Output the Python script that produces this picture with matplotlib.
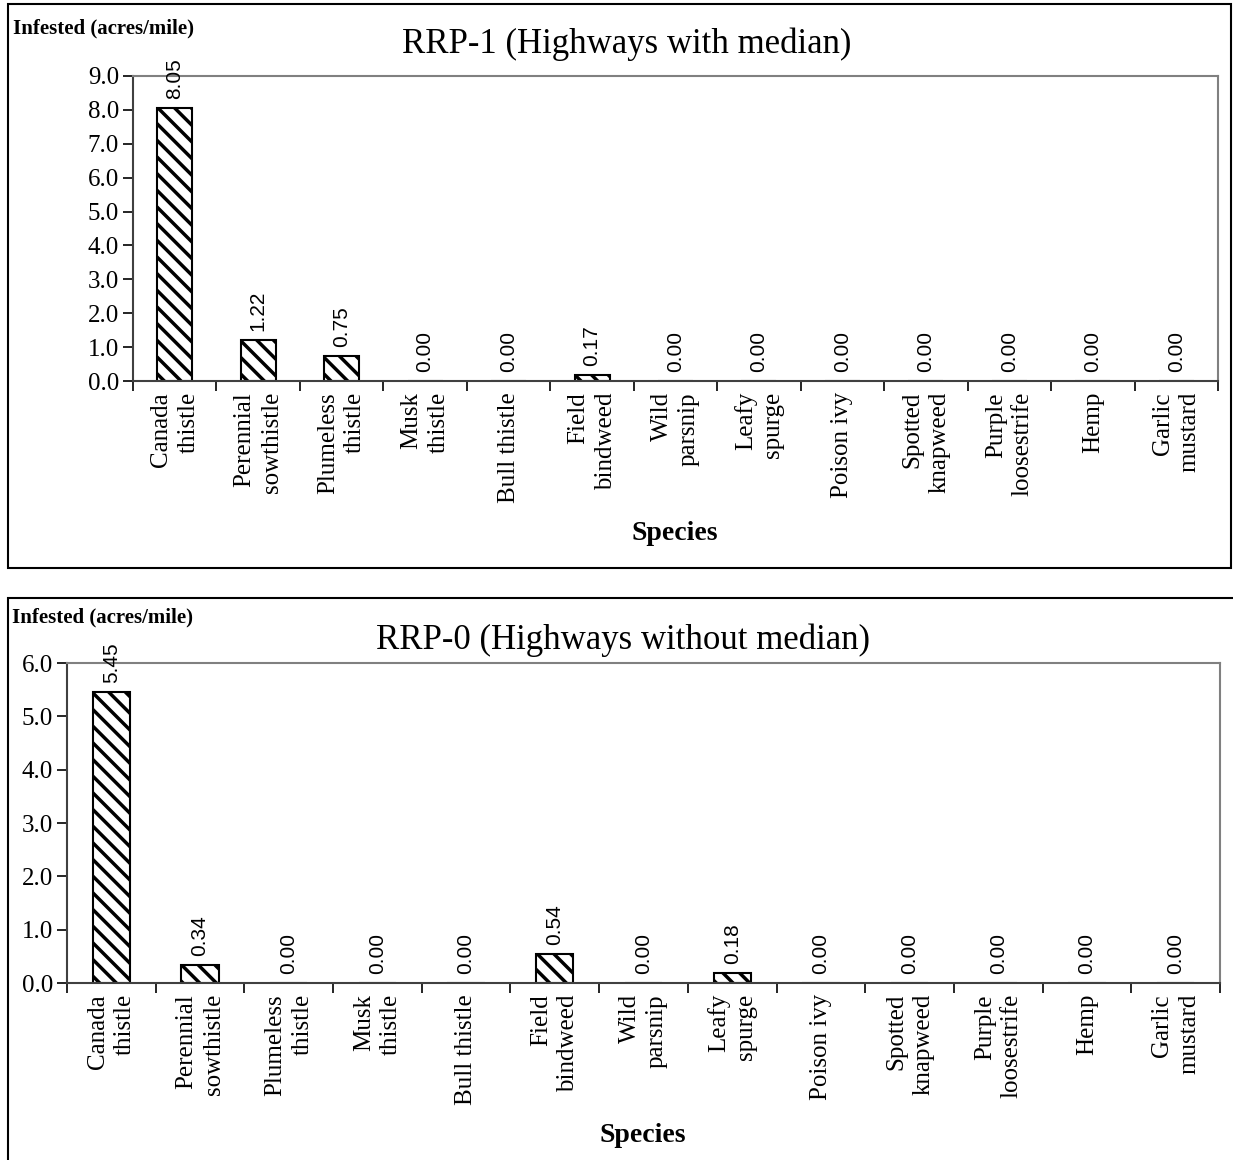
import matplotlib.pyplot as plt
import matplotlib.patches as patches
import numpy as np

species = ["Canada\nthistle", "Perennial\nsowthistle", "Plumeless\nthistle",
           "Musk\nthistle", "Bull thistle", "Field\nbindweed", "Wild\nparsnip",
           "Leafy\nspurge", "Poison ivy", "Spotted\nknapweed", "Purple\nloosestrife",
           "Hemp", "Garlic\nmustard"]
rrp1_vals = [8.05, 1.22, 0.75, 0.00, 0.00, 0.17, 0.00, 0.00, 0.00, 0.00, 0.00, 0.00, 0.00]
rrp0_vals = [5.45, 0.34, 0.00, 0.00, 0.00, 0.54, 0.00, 0.18, 0.00, 0.00, 0.00, 0.00, 0.00]

W, H = 1233, 1160
serif = "Liberation Serif"
sans = "Liberation Sans"
plt.rcParams['hatch.linewidth'] = 2.5


def px_axes(fig, left, top, right, bottom):
    return fig.add_axes([left / W, 1 - bottom / H, (right - left) / W, (bottom - top) / H])


def draw_panel(ax, vals, ymax):
    n = len(vals)
    x = np.arange(n)
    ax.bar(x, vals, width=0.42, color="white", edgecolor="black",
           hatch="\\\\", linewidth=1.5, zorder=2)
    for xi, v in zip(x, vals):
        ax.annotate(f"{v:.2f}", (xi, v), xytext=(0, 6.5), textcoords="offset points",
                    rotation=90, ha="center", va="bottom", fontsize=15, family=sans,
                    annotation_clip=False)
    ticks = np.arange(0, ymax + 0.01, 1.0)
    ax.set_xlim(-0.5, n - 0.5)
    ax.set_ylim(0, ymax)
    ax.set_yticks(ticks)
    ax.set_yticklabels([f"{t:.1f}" for t in ticks], family=serif, fontsize=18)
    ax.set_xticks(np.arange(-0.5, n, 1.0))
    ax.set_xticklabels([])
    ax.set_xticks(x, minor=True)
    ax.set_xticklabels(species, minor=True, rotation=90, family=serif,
                       fontsize=18, ha="center", va="top", multialignment="right",
                       linespacing=1.3)
    ax.tick_params(axis="x", which="major", length=7, direction="out", width=1.2)
    ax.tick_params(axis="x", which="minor", length=0, pad=8)
    ax.tick_params(axis="y", length=7, direction="out", width=1.2, pad=3)
    for s in ("top", "right"):
        ax.spines[s].set_color("#808080")
        ax.spines[s].set_linewidth(1.5)
    for s in ("left", "bottom"):
        ax.spines[s].set_color("#404040")
        ax.spines[s].set_linewidth(1.5)


fig = plt.figure(figsize=(W / 100, H / 100), dpi=100)

# outer frames
fig.patches.append(patches.Rectangle((8 / W, 1 - 568 / H), (1231 - 8) / W, (568 - 4) / H,
                                     transform=fig.transFigure, fill=False,
                                     edgecolor="black", linewidth=1.5))
fig.patches.append(patches.Rectangle((8 / W, 1 - 1175 / H), (1250 - 8) / W, (1175 - 598) / H,
                                     transform=fig.transFigure, fill=False,
                                     edgecolor="black", linewidth=1.5))

ax1 = px_axes(fig, 133, 76, 1218, 381)
draw_panel(ax1, rrp1_vals, 9.0)
fig.text(627 / W, 1 - 44 / H, "RRP-1 (Highways with median)", family=serif,
         fontsize=25, ha="center", va="center")
fig.text(675 / W, 1 - 533 / H, "Species", family=serif, fontsize=20,
         fontweight="bold", ha="center", va="center")
fig.text(13 / W, 1 - 28 / H, "Infested (acres/mile)", family=serif, fontsize=15,
         fontweight="bold", va="center")

ax2 = px_axes(fig, 67, 663, 1220, 983)
draw_panel(ax2, rrp0_vals, 6.0)
fig.text(623 / W, 1 - 640 / H, "RRP-0 (Highways without median)", family=serif,
         fontsize=25, ha="center", va="center")
fig.text(643 / W, 1 - 1136 / H, "Species", family=serif, fontsize=20,
         fontweight="bold", ha="center", va="center")
fig.text(12 / W, 1 - 617 / H, "Infested (acres/mile)", family=serif, fontsize=15,
         fontweight="bold", va="center")

fig.savefig("out.png", dpi=100)
